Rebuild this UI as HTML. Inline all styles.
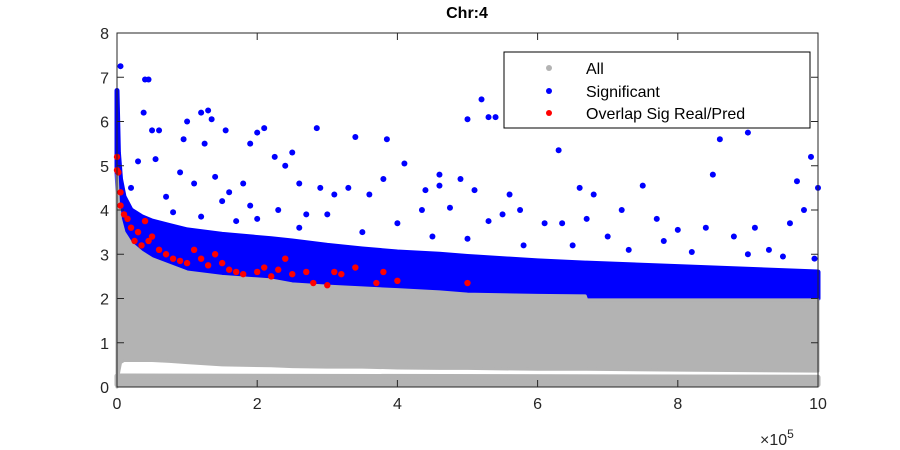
<!DOCTYPE html>
<html><head><meta charset="utf-8"><style>
body{margin:0;background:#fff;}
svg{display:block;font-family:"Liberation Sans",sans-serif;}
</style></head><body>
<svg id="chart" width="900" height="450">
<rect x="0" y="0" width="900" height="450" fill="#fff"/>
<text x="467" y="18" text-anchor="middle" font-weight="bold" font-size="16">Chr:4</text>
<g id="plot"></g>
<g id="axes"></g>
<g>
<rect x="504" y="52" width="306" height="76" fill="#fff" stroke="#000" stroke-width="1"/>
<circle cx="549" cy="68" r="3" fill="#b3b3b3"/>
<text x="586" y="74" font-size="16">All</text>
<circle cx="549" cy="91" r="3" fill="#0000ff"/>
<text x="586" y="97" font-size="16">Significant</text>
<circle cx="549" cy="113" r="3" fill="#ff0000"/>
<text x="586" y="119" font-size="16">Overlap Sig Real/Pred</text>
</g>
<text x="760" y="445" font-size="16" fill="#262626">×10<tspan dy="-7" font-size="12">5</tspan></text>
</svg>
<script>
// ---- data ----
const bandX      = [0, 0.02, 0.05, 0.1, 0.2, 0.35, 0.5, 0.75, 1.0, 1.5, 2.2, 2.5, 3.0, 3.5, 4.0, 4.6, 5.0, 6.0, 6.68, 6.7, 8.0, 10.0];
const grayUpper  = [4.9, 4.2, 3.8, 3.5, 3.25, 3.05, 2.9, 2.75, 2.6, 2.5, 2.42, 2.33, 2.28, 2.24, 2.2, 2.15, 2.1, 2.07, 2.06, 1.97, 1.97, 1.97];
const grayLower  = [0.0, 0.3, 0.55, 0.6, 0.6, 0.6, 0.6, 0.58, 0.55, 0.5, 0.48, 0.46, 0.45, 0.45, 0.43, 0.42, 0.42, 0.4, 0.4, 0.4, 0.38, 0.36];
const blueUpper  = [6.7, 5.3, 4.7, 4.3, 4.0, 3.85, 3.75, 3.65, 3.55, 3.45, 3.35, 3.3, 3.2, 3.12, 3.05, 3.0, 2.95, 2.85, 2.8, 2.8, 2.72, 2.6];
const blueLower  = [4.9, 4.2, 3.8, 3.5, 3.25, 3.05, 2.9, 2.75, 2.6, 2.5, 2.42, 2.33, 2.28, 2.24, 2.2, 2.15, 2.1, 2.07, 2.06, 2.0, 2.0, 2.0];
const stripLower = [0.05, 0.05];
const stripUpper = [0.25, 0.22];
const stripX     = [0, 10];
const sigX = [0.05,0.4,0.45,0.38,0.5,0.6,1.3,1.2,1.35,1.0,0.95,1.55,1.25,2.1,2.85,2.5,2.0,1.9,2.25,3.4,3.85,4.1,3.8,4.4,4.9,5.0,5.2,5.3,5.4,6.0,6.3,6.6,6.8,7.5,8.5,8.6,8.85,9.0,9.7,9.9,10.0,0.3,0.55,0.9,1.1,1.4,1.6,1.8,2.4,2.6,2.9,3.1,3.3,3.6,4.6,4.6,5.1,5.6,5.75,6.1,6.7,7.2,7.7,8.0,8.4,9.1,9.6,9.8,0.2,0.7,1.9,2.3,3.0,4.35,4.75,5.5,6.35,7.0,7.8,8.8,9.3,9.95,5.3,4.0,2.7,1.5,0.8,1.2,1.7,2.0,2.6,3.5,4.5,5.0,5.8,6.5,7.3,8.2,9.0,9.5];
const sigY = [7.25,6.95,6.95,6.2,5.8,5.8,6.25,6.2,6.05,6.0,5.6,5.8,5.5,5.85,5.85,5.3,5.75,5.5,5.2,5.65,5.6,5.05,4.7,4.45,4.7,6.05,6.5,6.1,6.1,6.1,5.35,4.5,4.35,4.55,4.8,5.6,6.08,5.75,4.65,5.2,4.5,5.1,5.15,4.85,4.6,4.75,4.4,4.6,5.0,4.6,4.5,4.35,4.5,4.35,4.8,4.55,4.45,4.35,4.0,3.7,3.8,4.0,3.8,3.55,3.6,3.6,3.7,4.0,4.5,4.3,4.1,4.0,3.9,4.0,4.05,3.9,3.7,3.4,3.3,3.4,3.1,2.9,3.75,3.7,3.9,4.2,3.95,3.85,3.75,3.8,3.6,3.5,3.4,3.35,3.2,3.2,3.1,3.05,3.0,2.95];
const ovX = [0.0,0.0,0.02,0.05,0.05,0.1,0.15,0.2,0.3,0.4,0.45,0.5,0.6,0.7,0.8,0.9,1.0,1.2,1.3,1.5,1.6,1.7,1.8,2.0,2.1,2.2,2.3,2.5,2.7,2.8,3.0,3.1,3.2,3.4,3.8,4.0,5.0,3.7,2.4,1.4,1.1,0.25,0.35];
const ovY = [5.2,4.9,4.85,4.4,4.1,3.9,3.8,3.6,3.5,3.75,3.3,3.4,3.1,3.0,2.9,2.85,2.8,2.9,2.75,2.8,2.65,2.6,2.55,2.6,2.7,2.5,2.65,2.55,2.6,2.35,2.3,2.6,2.55,2.7,2.6,2.4,2.35,2.35,2.9,3.0,3.1,3.3,3.2];
const xTicks = [0,2,4,6,8,10];
const yTicks = [0,1,2,3,4,5,6,7,8];

// ---- axes functions ----
const X0=117, X1=818, Y0=387, Y1=33;
const sx = v => X0 + (v-0)/(10-0)*(X1-X0);
const sy = v => Y0 - (v-0)/(8-0)*(Y0-Y1);
const NS="http://www.w3.org/2000/svg";
const plot=document.getElementById('plot'), axes=document.getElementById('axes');
function mk(tag, attrs, parent){const e=document.createElementNS(NS,tag);for(const k in attrs)e.setAttribute(k,attrs[k]);parent.appendChild(e);return e;}
function bandPath(xs, lo, hi){
  let d='M'+xs.map((x,i)=>sx(x)+','+sy(hi[i])).join(' L');
  for(let i=xs.length-1;i>=0;i--) d+=' L'+sx(xs[i])+','+sy(lo[i]);
  return d+' Z';
}
let p;
p=mk('path',{d:bandPath(stripX,stripLower,stripUpper),fill:'#b3b3b3',stroke:'#b3b3b3','stroke-width':5,'stroke-linejoin':'round'},plot);


p=mk('path',{d:bandPath(bandX,blueLower,blueUpper),fill:'#0000ff',stroke:'#0000ff','stroke-width':5,'stroke-linejoin':'round'},plot);


p=mk('path',{d:bandPath(bandX,grayLower,grayUpper),fill:'#b3b3b3',stroke:'#b3b3b3','stroke-width':3,'stroke-linejoin':'round'},plot);


sigX.forEach((x,i)=>{
  const c=mk('circle',{cx:sx(x),cy:sy(sigY[i]),r:3,fill:'#0000ff'},plot);
  
  
});
ovX.forEach((x,i)=>{
  const c=mk('circle',{cx:sx(x),cy:sy(ovY[i]),r:3.2,fill:'#ff0000'},plot);
  
  
});
const fr=mk('rect',{x:X0,y:Y1,width:X1-X0,height:Y0-Y1,fill:'none',stroke:'#262626','stroke-width':1},axes);


xTicks.forEach(t=>{
  const x=sx(t);
  mk('line',{x1:x,y1:Y0,x2:x,y2:Y0-7,stroke:'#262626'},axes);
  mk('line',{x1:x,y1:Y1,x2:x,y2:Y1+7,stroke:'#262626'},axes);
  const tx=mk('text',{x:x,y:Y0+22,'text-anchor':'middle','font-size':16,fill:'#262626'},axes);
  tx.textContent=t;
  
  
});
yTicks.forEach(t=>{
  const y=sy(t);
  mk('line',{x1:X0,y1:y,x2:X0+7,y2:y,stroke:'#262626'},axes);
  mk('line',{x1:X1,y1:y,x2:X1-7,y2:y,stroke:'#262626'},axes);
  const tx=mk('text',{x:X0-8,y:y+6,'text-anchor':'end','font-size':16,fill:'#262626'},axes);
  tx.textContent=t;
  
  
});
</script>
</body></html>
